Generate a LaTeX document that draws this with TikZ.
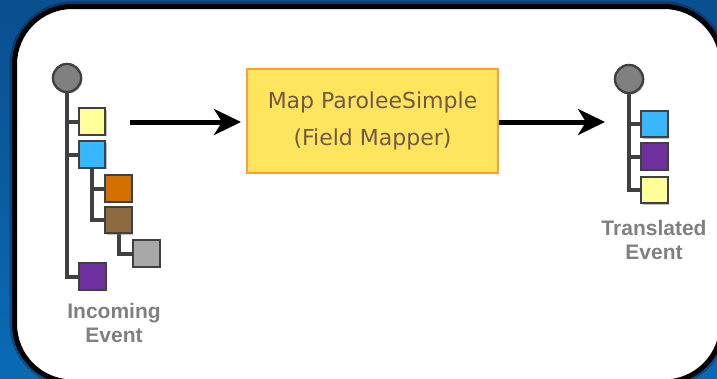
\documentclass[tikz,border=0pt]{standalone}
\usepackage{fontspec}
\setmainfont{Liberation Sans}
\newfontfamily\boxfont{DejaVu Sans}
\usetikzlibrary{arrows.meta,shadows}
\definecolor{bgtop}{HTML}{0A4F8F}
\definecolor{bgbot}{HTML}{0B6AB5}
\definecolor{treeline}{HTML}{404040}
\definecolor{qyellow}{HTML}{FFFF99}
\definecolor{qcyan}{HTML}{38B6FF}
\definecolor{qorange}{HTML}{D47000}
\definecolor{qbrown}{HTML}{8E6A3E}
\definecolor{qgray}{HTML}{A8A8A8}
\definecolor{qpurple}{HTML}{7030A0}
\definecolor{rootgray}{HTML}{808080}
\definecolor{mapfill}{HTML}{FFE45E}
\definecolor{mapedge}{HTML}{FFA028}
\definecolor{maptext}{HTML}{735848}
\definecolor{labelgray}{HTML}{808080}
\tikzset{
  sq/.style={draw=treeline, line width=2.3pt, minimum size=26.5pt, inner sep=0pt,
    drop shadow={shadow xshift=1.5pt, shadow yshift=-1.5pt, opacity=0.3}},
  root/.style={circle, draw=treeline, line width=2.2pt, fill=rootgray, minimum size=28pt, inner sep=0pt,
    drop shadow={shadow xshift=1.5pt, shadow yshift=-1.5pt, opacity=0.3}},
  tline/.style={draw=treeline, line width=4pt},
  bigarrow/.style={line width=5pt, -{Stealth[length=27pt,width=26pt,inset=8pt]}},
  evlabel/.style={font=\fontsize{21}{24}\selectfont\bfseries, text=labelgray, align=center, inner sep=0pt},
}
\begin{document}
\begin{tikzpicture}[x=1pt,y=-1pt]
\useasboundingbox (0,0) rectangle (717,378);
\shade[top color=bgtop, bottom color=bgbot] (0,0) rectangle (717,378);
% white panel
\draw[black, opacity=0.25, line width=10pt, rounded corners=58pt] (14.5,6.5) rectangle (722,382);
\draw[black, fill=white, line width=5pt, rounded corners=58pt] (14.5,6.5) rectangle (722,382);

% left tree
\node[root] (L0) at (67,78) {};
\node[sq, fill=qyellow] (Y1) at (92,121.5) {};
\node[sq, fill=qcyan] (C1) at (92,154.5) {};
\node[sq, fill=qorange] (O1) at (118.5,188.5) {};
\node[sq, fill=qbrown] (B1) at (118.5,220) {};
\node[sq, fill=qgray] (G1) at (146.5,253.5) {};
\node[sq, fill=qpurple] (P1) at (92.5,276.5) {};
\path[tline] (L0.south) -- (L0.south |- P1.west) -- (P1.west);
\path[tline] (L0.south |- Y1.west) -- (Y1.west);
\path[tline] (L0.south |- C1.west) -- (C1.west);
\path[tline] (C1.south) -- (C1.south |- B1.west) -- (B1.west);
\path[tline] (C1.south |- O1.west) -- (O1.west);
\path[tline] (B1.south) -- (B1.south |- G1.west) -- (G1.west);
% redraw nodes on top of the lines
\node[root] at (L0) {};
\node[sq, fill=qyellow] at (Y1) {};
\node[sq, fill=qcyan] at (C1) {};
\node[sq, fill=qorange] at (O1) {};
\node[sq, fill=qbrown] at (B1) {};
\node[sq, fill=qgray] at (G1) {};
\node[sq, fill=qpurple] at (P1) {};
\node[evlabel] (Linc) at (114,322.5) {Incoming\\Event};

% middle box
\node[draw=mapedge, fill=mapfill, line width=2pt, minimum width=251pt, minimum height=104pt,
  inner sep=0pt, align=center, text=maptext,
  font=\boxfont\fontsize{22}{37}\selectfont] (map) at (372.5,121) {Map ParoleeSimple\\(Field Mapper)};

% arrows
\coordinate (a1) at (130,122);
\coordinate (a2) at (605,122);
\draw[bigarrow, shorten >=5pt] (a1) -- (a1 -| map.west);
\draw[bigarrow] (map.east |- a2) -- (a2);

% right tree
\node[root] (R0) at (629,79) {};
\node[sq, fill=qcyan] (RC) at (654.5,124) {};
\node[sq, fill=qpurple] (RP) at (654.5,156.5) {};
\node[sq, fill=qyellow] (RY) at (654.5,190) {};
\path[tline] (R0.south) -- (R0.south |- RY.west) -- (RY.west);
\path[tline] (R0.south |- RC.west) -- (RC.west);
\path[tline] (R0.south |- RP.west) -- (RP.west);
\node[root] at (R0) {};
\node[sq, fill=qcyan] at (RC) {};
\node[sq, fill=qpurple] at (RP) {};
\node[sq, fill=qyellow] at (RY) {};
\node[evlabel] (Rtr) at (654,240) {Translated\\Event};
\end{tikzpicture}
\end{document}
